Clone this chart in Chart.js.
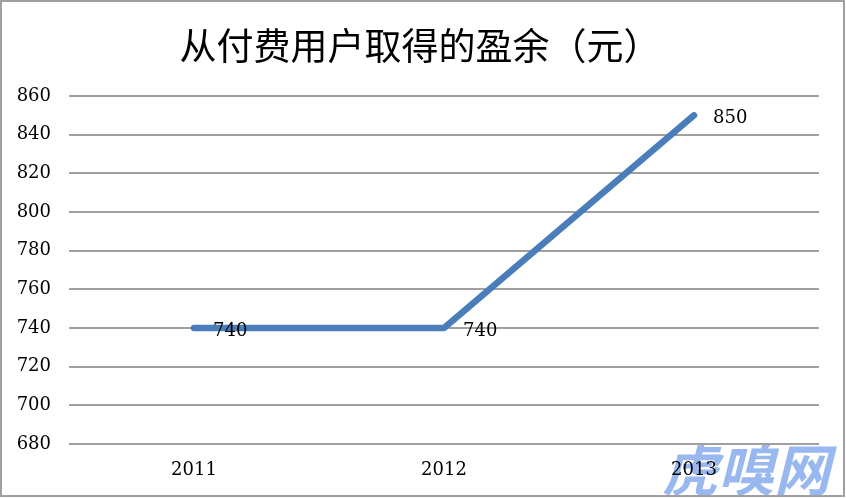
<!DOCTYPE html>
<html>
<head>
<meta charset="utf-8">
<script src="https://cdn.jsdelivr.net/npm/chart.js@4.4.1/dist/chart.umd.min.js"></script>
<style>
  body { margin: 0; background: #fff; }
</style>
</head>
<body>
<canvas id="chart" width="846" height="498"></canvas>
<script>
var years = ["2011", "2012", "2013"];
var surplus = [740, 740, 850];
var titleText = "从付费用户取得的盈余（元）";

// labels next to each point, like excel's "right" position
var pointLabels = {
  id: "pointLabels",
  afterDatasetsDraw: function(chart) {
    var ctx = chart.ctx;
    var meta = chart.getDatasetMeta(0);
    ctx.save();
    ctx.font = "18px 'DejaVu Serif'";
    ctx.fillStyle = "#000";
    ctx.textAlign = "left";
    ctx.textBaseline = "middle";
    meta.data.forEach(function(pt, i) {
      ctx.fillText(surplus[i], pt.x + 19, pt.y + 3);
    });
    ctx.restore();
  }
};

var frame = {
  id: "frame",
  beforeDraw: function(chart) {
    var ctx = chart.ctx;
    ctx.save();
    ctx.fillStyle = "#fff";
    ctx.fillRect(0, 0, chart.width, chart.height);
    // watermark
    ctx.font = "italic bold 56px 'Noto Sans CJK SC'";
    ctx.fillStyle = "rgba(120,160,235,0.75)";
    ctx.textAlign = "right";
    ctx.textBaseline = "bottom";
    ctx.fillText("虎嗅网", 830, 498);
    // title, drawn by hand so it can sit a bit right of centre like the original
    ctx.font = "37px 'Noto Sans CJK SC'";
    ctx.fillStyle = "#000";
    ctx.textAlign = "center";
    ctx.textBaseline = "middle";
    ctx.fillText(titleText, 420, 46);
    ctx.restore();
  },
  afterDraw: function(chart) {
    var ctx = chart.ctx;
    ctx.save();
    ctx.strokeStyle = "#a0a0a0";
    ctx.lineWidth = 2;
    ctx.strokeRect(1, 1, 843, 495);
    ctx.restore();
  }
};

new Chart(document.getElementById("chart"), {
  type: "line",
  data: {
    labels: years,
    datasets: [{
      data: surplus,
      borderColor: "#4a7ebb",
      borderWidth: 6.5,
      borderCapStyle: "round",
      borderJoinStyle: "round",
      pointRadius: 0,
      tension: 0
    }]
  },
  options: {
    responsive: false,
    animation: false,
    layout: { padding: { left: 0, right: 27, top: 96, bottom: 0 } },
    plugins: {
      legend: { display: false },
      tooltip: { enabled: false },
      title: { display: false }
    },
    scales: {
      x: {
        offset: true,
        grid: { display: false, drawTicks: false },
        border: { display: false },
        ticks: { color: "#000", font: { family: "'DejaVu Serif'", size: 18 }, padding: 16 },
        afterFit: function(scale) { scale.height = 54; }
      },
      y: {
        min: 680,
        max: 860,
        grid: { color: "#a0a0a0", lineWidth: 2, drawTicks: false },
        border: { display: false },
        ticks: { stepSize: 20, color: "#000", font: { family: "'DejaVu Serif'", size: 18 }, padding: 18 },
        afterFit: function(scale) { scale.width = 69; }
      }
    }
  },
  plugins: [frame, pointLabels]
});
</script>
</body>
</html>
